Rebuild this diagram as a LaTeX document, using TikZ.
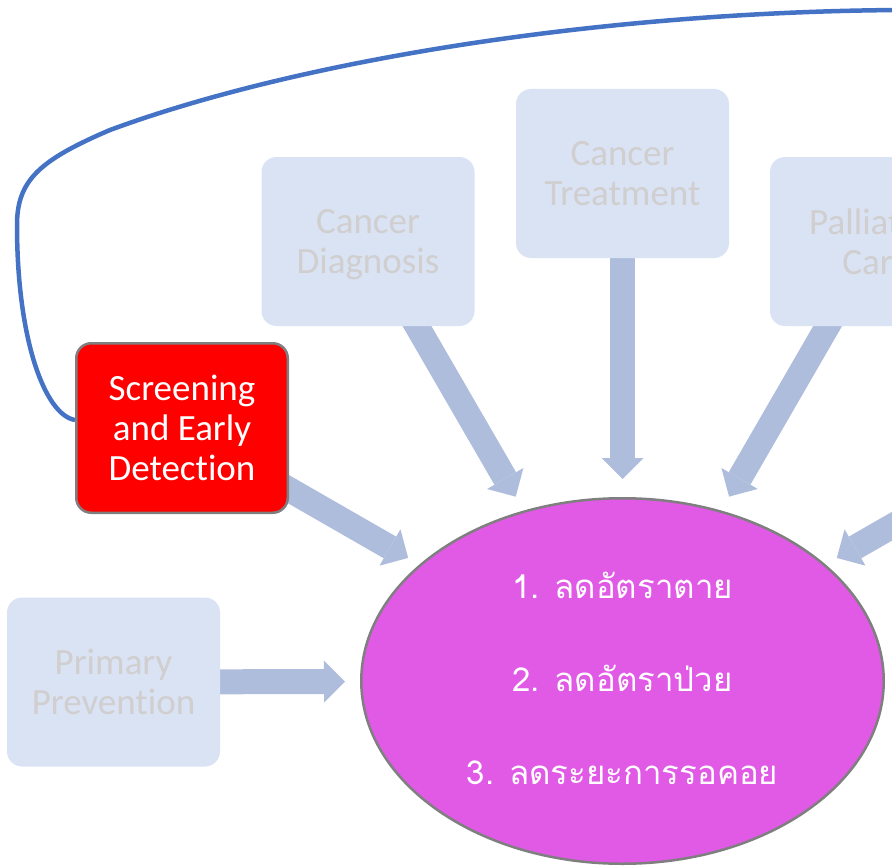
\documentclass[tikz,border=0pt]{standalone}
\usepackage{fontspec}
\setmainfont{Carlito}[Ligatures=NoCommon]
\newfontfamily\thaifont[Script=Thai]{Loma}
\usetikzlibrary{arrows.meta,shapes.geometric,backgrounds}

\definecolor{paleblue}{HTML}{DAE3F3}
\definecolor{palegray}{HTML}{D0CECE}
\definecolor{arrowblue}{HTML}{AFBDDD}
\definecolor{linkblue}{HTML}{4472C4}
\definecolor{rimgray}{HTML}{7F7F7F}
\definecolor{goalpink}{HTML}{E05AE6}
\definecolor{alertred}{HTML}{FF0000}

\tikzset{
  stagebox/.style={rectangle, rounded corners=15pt, fill=paleblue, text=palegray,
    minimum width=213pt, minimum height=169pt, inner sep=0pt, align=center,
    font=\fontsize{37}{40}\selectfont},
  focusbox/.style={stagebox, fill=alertred, draw=rimgray, line width=2.5pt, text=white,
    minimum width=211.5pt, minimum height=169.5pt},
  goal/.style={ellipse, fill=goalpink, draw=rimgray, line width=2.5pt,
    minimum width=522.5pt, minimum height=365.5pt, inner sep=0pt},
  goaltext/.style={text=white, inner sep=0pt, align=center,
    font=\thaifont\fontsize{33}{93}\selectfont},
  blockarrow/.style={draw=arrowblue, line width=25pt,
    -{Triangle[width=42pt,length=21pt,line width=0pt]}},
  loop/.style={draw=linkblue, line width=4.5pt}
}

\begin{document}
\begin{tikzpicture}[x=1pt,y=-1pt]
  \useasboundingbox (0,0) rectangle (892,867);

  % stages feeding the outcomes
  \node[stagebox] (prim) at (113.5,682) {Primary\\Prevention};
  \node[focusbox] (scr) at (182,428) {Screening\\and Early\\Detection};
  \node[stagebox] (diag) at (368,241.5) {Cancer\\Dia\smash{g}nosis};
  \node[stagebox] (treat) at (622.5,173.5) {Cancer\\Treatment};
  \node[stagebox] (pall) at (876.5,241.5) {Palliative\\Care};
  \coordinate (beyond) at (1063,428);
  \coordinate (far) at (900,10);

  % expected outcomes
  \node[goal] (ell) at (622.5,681) {};
  \node[goaltext] (outcomes) at ([yshift=3pt]ell.center)
    {1. ลดอัตราตาย\\2. ลดอัตราป่วย\\3. ลดระยะการรอคอย};

  \begin{scope}[on background layer]
    \draw[blockarrow, shorten >=15pt] (prim.center) -- (ell);
    \draw[blockarrow, shorten >=13pt] (scr.center) -- (ell);
    \draw[blockarrow, shorten >=16pt] (diag.center) -- (ell);
    \draw[blockarrow, shorten >=18pt] (treat.center) -- (ell);
    \draw[blockarrow, shorten >=16pt] (pall.center) -- (ell);
    \draw[blockarrow, shorten >=13pt] (beyond) -- (ell);

    % feedback link from screening over the top
    \draw[loop] ([yshift=8pt]scr.west)
      .. controls (45,415) and (17,340) .. (17,225)
      .. controls (17,180) and (40,160) .. (110,130)
      .. controls (300,60) and (600,12) .. (far);
  \end{scope}
\end{tikzpicture}
\end{document}
